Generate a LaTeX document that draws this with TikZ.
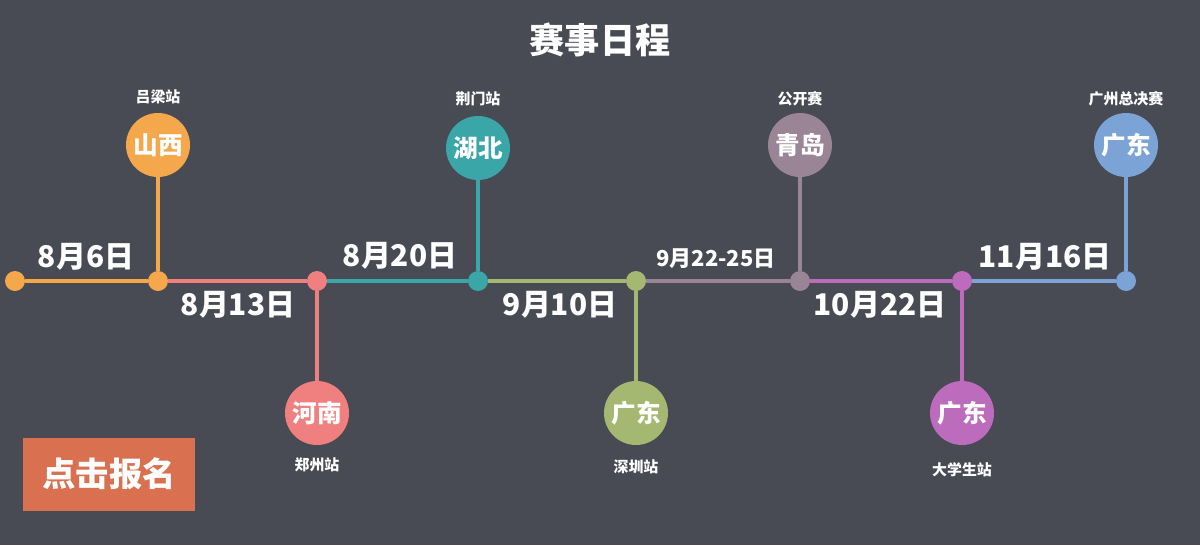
\documentclass[tikz,border=0pt]{standalone}
\usepackage{fontspec}
\setmainfont{Noto Sans CJK SC}
\usetikzlibrary{positioning}
\definecolor{BgGray}{HTML}{484A54}
\definecolor{EvOrange}{HTML}{F5A74B}
\definecolor{EvSalmon}{HTML}{F08080}
\definecolor{EvTeal}{HTML}{3AA6A8}
\definecolor{EvGreen}{HTML}{A5B872}
\definecolor{EvMauve}{HTML}{9A8597}
\definecolor{EvPurple}{HTML}{BD6CBD}
\definecolor{EvBlue}{HTML}{7BA3D6}
\definecolor{BtnRed}{HTML}{D9704F}

\begin{document}
\begin{tikzpicture}[
        x=0.02cm, y=-0.02cm,
        % Puntos de la línea
        dot/.style={circle, inner sep=0pt, minimum size=0.4cm},
        % Círculos de provincia
        city/.style={circle, inner sep=0pt, minimum size=1.28cm,
                font=\bfseries\fontsize{14}{14}\selectfont, text=white},
        % Etiquetas
        stop/.style={font=\bfseries\fontsize{8.5}{9}\selectfont, text=white},
        datelabel/.style={font=\bfseries\fontsize{17}{17}\selectfont, text=white},
        seg/.style={line width=2.5pt},
        stem/.style={line width=2pt}
    ]
    \fill[BgGray] (0,0) rectangle (1200,545);

    % Título
    \node[font=\bfseries\fontsize{20}{20}\selectfont, text=white] (titulo) at (600,40) {赛事日程};

    % Puntos
    \node[dot, fill=EvOrange] (p0) at (15,281) {};
    \node[dot, fill=EvOrange] (p1) at (158,281) {};
    \node[dot, fill=EvSalmon] (p2) at (317,281) {};
    \node[dot, fill=EvTeal] (p3) at (478,281) {};
    \node[dot, fill=EvGreen] (p4) at (636,281) {};
    \node[dot, fill=EvMauve] (p5) at (800,281) {};
    \node[dot, fill=EvPurple] (p6) at (962,281) {};
    \node[dot, fill=EvBlue] (p7) at (1126,281) {};

    % Segmentos
    \draw[seg, EvOrange] (p0) -- (p1);
    \draw[seg, EvSalmon] (p1) -- (p2);
    \draw[seg, EvTeal] (p2) -- (p3);
    \draw[seg, EvGreen] (p3) -- (p4);
    \draw[seg, EvMauve] (p4) -- (p5);
    \draw[seg, EvPurple] (p5) -- (p6);
    \draw[seg, EvBlue] (p6) -- (p7);

    % Círculos
    \node[city, fill=EvOrange] (c1) at (158,145) {山西};
    \node[city, fill=EvSalmon] (c2) at (317,413) {河南};
    \node[city, fill=EvTeal] (c3) at (478,148) {湖北};
    \node[city, fill=EvGreen] (c4) at (636,413) {广东};
    \node[city, fill=EvMauve] (c5) at (800,145) {青岛};
    \node[city, fill=EvPurple] (c6) at (962,413) {广东};
    \node[city, fill=EvBlue] (c7) at (1126,145) {广东};

    % Tallos
    \draw[stem, EvOrange] (c1) -- (p1);
    \draw[stem, EvSalmon] (c2) -- (p2);
    \draw[stem, EvTeal] (c3) -- (p3);
    \draw[stem, EvGreen] (c4) -- (p4);
    \draw[stem, EvMauve] (c5) -- (p5);
    \draw[stem, EvPurple] (c6) -- (p6);
    \draw[stem, EvBlue] (c7) -- (p7);

    % Estaciones
    \node[stop] (s1) at (158,97) {吕梁站};
    \node[stop] (s2) at (317,465) {郑州站};
    \node[stop] (s3) at (478,99) {荆门站};
    \node[stop] (s4) at (636,467) {深圳站};
    \node[stop] (s5) at (800,99) {公开赛};
    \node[stop] (s6) at (962,470) {大学生站};
    \node[stop] (s7) at (1126,99) {广州总决赛};

    % Fechas
    \node[datelabel] (d1) at (86,257) {8月6日};
    \node[datelabel] (d2) at (238,305) {8月13日};
    \node[datelabel] (d3) at (400,256) {8月20日};
    \node[datelabel] (d4) at (560,305) {9月10日};
    \node[font=\bfseries\fontsize{12.5}{13}\selectfont, text=white] (d5) at (716,259) {9月22-25日};
    \node[datelabel] (d6) at (880,305) {10月22日};
    \node[datelabel] (d7) at (1045,257) {11月16日};

    % Botón
    \fill[BtnRed] (23,438) rectangle (195,511);
    \node[font=\bfseries\fontsize{19}{19}\selectfont, text=white] (boton) at (109,474) {点击报名};
\end{tikzpicture}
\end{document}
